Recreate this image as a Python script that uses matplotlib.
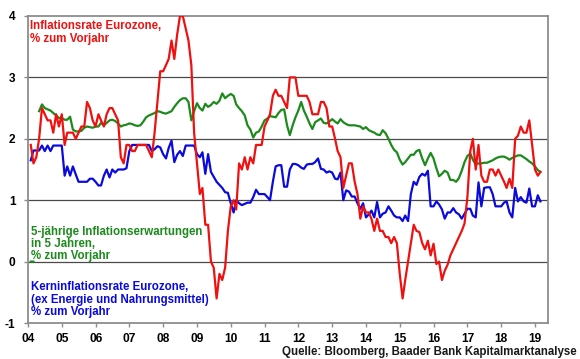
import numpy as np
import pandas as pd
import matplotlib
matplotlib.use('Agg')
import matplotlib.pyplot as plt
import matplotlib.dates as mdates

# monthly observations, Jan 2004 .. Feb 2019 (month-end)
dates = pd.date_range('2004-01-31', periods=182, freq='ME')

# Inflationsrate Eurozone, % y/y
red = [
    1.9, 1.6, 1.7, 2.0, 2.5, 2.4, 2.3, 2.3, 2.1, 2.4, 2.2, 2.4,
    1.9, 2.1, 2.1, 2.1, 2.0, 2.1, 2.2, 2.2, 2.6, 2.5, 2.3, 2.2,
    2.4, 2.3, 2.2, 2.4, 2.5, 2.5, 2.4, 2.3, 1.7, 1.6, 1.9, 1.9,
    1.8, 1.8, 1.9, 1.9, 1.9, 1.9, 1.8, 1.7, 2.1, 2.6, 3.1, 3.1,
    3.2, 3.3, 3.6, 3.3, 3.7, 4.0, 4.0, 3.8, 3.6, 3.2, 2.1, 1.6,
    1.1, 1.2, 0.6, 0.6, 0.0, -0.1, -0.6, -0.2, -0.3, -0.1, 0.5, 0.9,
    1.0, 0.85, 1.6, 1.5, 1.7, 1.5, 1.7, 1.6, 1.9, 1.9, 1.9, 2.2,
    2.3, 2.4, 2.7, 2.8, 2.7, 2.7, 2.6, 2.5, 3.0, 3.0, 3.0, 2.7,
    2.7, 2.7, 2.7, 2.6, 2.4, 2.4, 2.4, 2.6, 2.6, 2.5, 2.2, 2.2,
    2.0, 1.8, 1.7, 1.2, 1.4, 1.6, 1.6, 1.3, 1.1, 0.7, 0.9, 0.8,
    0.8, 0.7, 0.5, 0.7, 0.5, 0.5, 0.4, 0.4, 0.3, 0.4, 0.3, -0.2,
    -0.6, -0.3, 0.0, 0.3, 0.6, 0.5, 0.48, 0.3, 0.2, 0.34, 0.1, 0.29,
    -0.04, 0.0, -0.3, -0.15, -0.05, 0.1, 0.2, 0.3, 0.4, 0.5, 0.62, 1.05,
    1.8, 2.0, 1.5, 1.9, 1.4, 1.3, 1.3, 1.5, 1.5, 1.4, 1.5, 1.4,
    1.3, 1.2, 1.35, 1.2, 2.0, 2.05, 2.2, 2.1, 2.1, 2.3, 1.9, 1.5,
    1.4, 1.46,
]

# Kerninflationsrate Eurozone, % y/y
blue = [
    1.65, 1.81, 1.81, 1.81, 1.89, 1.8, 1.89, 1.8, 1.89, 1.89, 1.89, 1.89,
    1.4, 1.55, 1.4, 1.55, 1.42, 1.3, 1.3, 1.3, 1.3, 1.35, 1.35, 1.3,
    1.24, 1.24, 1.4, 1.5, 1.37, 1.5, 1.45, 1.5, 1.5, 1.5, 1.52, 1.8,
    1.9, 1.9, 1.9, 1.9, 1.9, 1.9, 1.9, 1.8, 1.83, 1.88, 1.86, 1.75,
    1.68, 1.85, 1.97, 1.62, 1.74, 1.8, 1.72, 1.89, 1.89, 1.89, 1.89, 1.75,
    1.7, 1.78, 1.43, 1.75, 1.46, 1.38, 1.3, 1.25, 1.2, 1.13, 1.12, 0.95,
    0.8, 1.0, 0.95, 0.92, 0.94, 0.96, 0.96, 1.05, 1.17, 1.1, 1.1, 1.1,
    1.05, 1.0, 1.3, 1.55, 1.57, 1.57, 1.22, 1.22, 1.5, 1.59, 1.59, 1.57,
    1.53, 1.51, 1.58, 1.59, 1.59, 1.62, 1.68, 1.51, 1.5, 1.45, 1.47, 1.45,
    1.35, 1.34, 1.45, 1.0, 1.16, 1.14, 1.06, 1.06, 0.95, 0.86, 0.95, 0.72,
    0.77, 0.83, 0.72, 0.97, 0.72, 0.78, 0.8, 0.9, 0.83, 0.75, 0.72, 0.72,
    0.66, 0.75, 0.66, 1.1, 1.3, 1.25, 1.38, 1.43, 1.4, 1.48, 0.9, 0.9,
    0.98, 0.93, 0.85, 0.7, 0.8, 0.8, 0.87, 0.8, 0.77, 0.7, 0.78, 0.86,
    0.86, 0.75, 0.72, 1.29, 0.9, 1.2, 1.21, 1.21, 1.1, 0.9, 0.9, 0.9,
    0.96, 0.98, 0.8, 0.72, 1.2, 0.98, 1.05, 0.98, 0.96, 1.19, 0.9, 0.9,
    1.08, 0.98,
]

# 5-jaehrige Inflationserwartungen in 5 Jahren
green = [
    0.0, 0.0, np.nan,
    2.45, 2.56, 2.5, 2.48, 2.46, 2.42, 2.38, 2.34, 2.34, 2.31, 2.31, 2.36,
    2.15, 2.12, 2.12, 2.13, 2.18, 2.2, 2.19, 2.18, 2.2, 2.2, 2.26, 2.22,
    2.26, 2.3, 2.31, 2.29, 2.25, 2.2, 2.22, 2.23, 2.25, 2.24, 2.22, 2.21,
    2.22, 2.28, 2.35, 2.38, 2.4, 2.42, 2.45, 2.44, 2.42, 2.41, 2.43, 2.45,
    2.52, 2.58, 2.63, 2.66, 2.66, 2.6, 2.3, 2.45, 2.58, 2.5, 2.46, 2.57,
    2.52, 2.55, 2.6, 2.57, 2.62, 2.74, 2.66, 2.7, 2.73, 2.7, 2.56, 2.5,
    2.45, 2.38, 2.22, 2.15, 2.02, 2.1, 2.12, 2.2, 2.3, 2.33, 2.37, 2.36,
    2.35, 2.42, 2.47, 2.48, 2.22, 2.06, 2.22, 2.35, 2.46, 2.6, 2.46, 2.36,
    2.25, 2.16, 2.27, 2.3, 2.33, 2.26, 2.25, 2.28, 2.32, 2.28, 2.25, 2.32,
    2.27, 2.24, 2.22, 2.22, 2.22, 2.21, 2.2, 2.16, 2.19, 2.14, 2.12, 2.1,
    2.07, 2.06, 2.14, 2.09, 2.0, 1.9, 1.82, 1.78, 1.66, 1.58, 1.62, 1.68,
    1.74, 1.74, 1.8, 1.82, 1.68, 1.57, 1.68, 1.77, 1.68, 1.52, 1.39, 1.43,
    1.48, 1.45, 1.33, 1.33, 1.3, 1.36, 1.48, 1.62, 1.72, 1.76, 1.66, 1.58,
    1.6, 1.6, 1.61, 1.61, 1.63, 1.65, 1.68, 1.7, 1.71, 1.71, 1.69, 1.66,
    1.69, 1.71, 1.73, 1.73, 1.7, 1.67, 1.63, 1.6, 1.55, 1.49, 1.46,
]

y_ticks = [-1, 0, 1, 2, 3, 4]

RED = '#f01010'
GREEN = '#1c8a1c'
BLUE = '#0a0adc'

plt.rcParams['font.family'] = ['Liberation Sans', 'DejaVu Sans']
plt.rcParams['font.weight'] = 'bold'
plt.rcParams['axes.unicode_minus'] = False

W, H = 580, 359
fig = plt.figure(figsize=(W / 100, H / 100), dpi=100)
ax = fig.add_axes([28 / W, 1 - 323 / H, 520 / W, 307 / H])


def fpos(x, y):
    # pixel position -> figure fraction
    return x / W, 1 - y / H


# grid lines
for y in y_ticks[1:-1]:
    ax.axhline(y, color='#4a4a4a', lw=0.9, zorder=1)

ax.plot(dates, green, color=GREEN, lw=1.6, zorder=3)
ax.plot(dates, blue, color=BLUE, lw=1.6, zorder=4)
ax.plot(dates, red, color=RED, lw=1.6, zorder=5)

ax.set_xlim(pd.Timestamp('2004-01-01'), pd.Timestamp('2019-05-21'))
ax.set_ylim(-1, 4)
ax.set_yticks(y_ticks)
ax.xaxis.set_major_locator(mdates.YearLocator())
ax.xaxis.set_major_formatter(mdates.DateFormatter('%y'))

for s in ax.spines.values():
    s.set_color('#8c8c8c')
    s.set_linewidth(1.3)

ax.tick_params(axis='x', direction='out', length=3, width=1, color='#8c8c8c',
               labelsize=8.6, pad=4)
ax.tick_params(axis='y', direction='out', length=3, width=1, color='#8c8c8c',
               labelsize=8.6, pad=6)

# series labels
labels = [
    (RED, 30.5, [29.3, 41.7], ['Inflationsrate Eurozone,', '% zum Vorjahr']),
    (GREEN, 31, [234.5, 246.8, 259.2],
     ['5-jährige Inflationserwartungen', 'in 5 Jahren,', '% zum Vorjahr']),
    (BLUE, 31, [290.2, 302.5, 314.8],
     ['Kerninflationsrate Eurozone,', '(ex Energie und Nahrungsmittel)', '% zum Vorjahr']),
]
for color, x, ys, lines in labels:
    for y, line in zip(ys, lines):
        fig.text(*fpos(x, y), line, color=color, fontsize=8.3, fontweight='bold',
                 ha='left', va='baseline')

fig.text(*fpos(577, 355), 'Quelle: Bloomberg, Baader Bank Kapitalmarktanalyse',
         ha='right', va='baseline', fontsize=8.3, fontweight='bold', color='#1a1a1a')

fig.savefig('out.png', dpi=100)
